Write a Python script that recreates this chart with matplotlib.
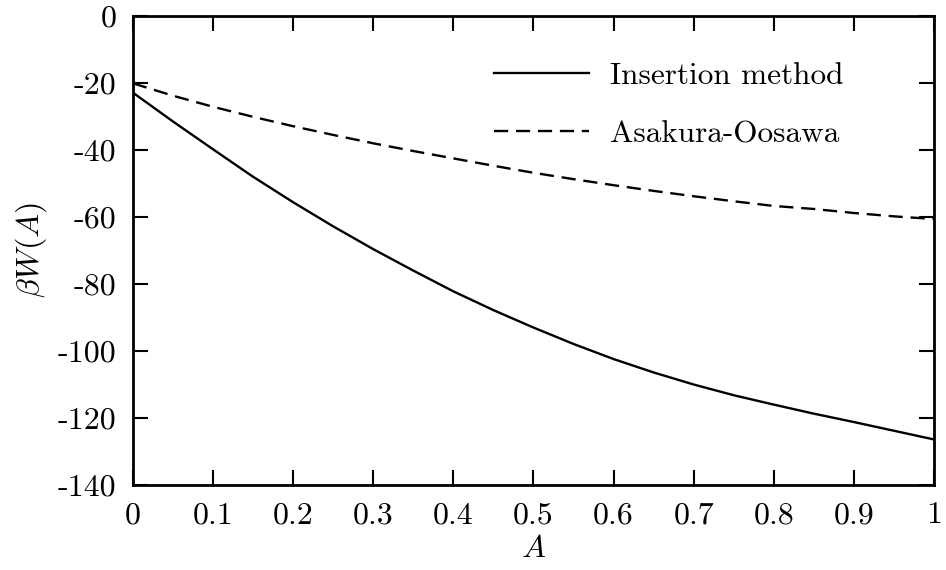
import numpy as np
import matplotlib
matplotlib.use("Agg")
import matplotlib.pyplot as plt

plt.rcParams['font.family'] = 'cmr10'
plt.rcParams['mathtext.fontset'] = 'cm'
plt.rcParams['axes.unicode_minus'] = False

# depletion potential vs A
A = [0.0, 0.05, 0.1, 0.15, 0.2, 0.25, 0.3, 0.35, 0.4, 0.45, 0.5,
     0.55, 0.6, 0.65, 0.7, 0.75, 0.8, 0.85, 0.9, 0.95, 1.0]
insertion = [-22.9, -31.5, -39.8, -48.0, -55.6, -62.8, -69.6, -76.0, -82.2, -87.8, -93.0,
             -97.9, -102.4, -106.4, -110.0, -113.2, -116.0, -118.7, -121.2, -123.8, -126.4]
asakura = [-20.1, -23.8, -27.1, -30.1, -32.9, -35.5, -38.0, -40.3, -42.5, -44.7, -46.8,
           -48.7, -50.5, -52.2, -53.8, -55.3, -56.7, -57.6, -58.8, -59.8, -60.6]

xticks = [0, 0.1, 0.2, 0.3, 0.4, 0.5, 0.6, 0.7, 0.8, 0.9, 1]
xticklabels = ['0', '0.1', '0.2', '0.3', '0.4', '0.5', '0.6', '0.7', '0.8', '0.9', '1']
yticks = [0, -20, -40, -60, -80, -100, -120, -140]
yticklabels = ['0', '-20', '-40', '-60', '-80', '-100', '-120', '-140']

fig = plt.figure(figsize=(9.46, 5.70), dpi=100)
ax = fig.add_axes([0.1406, 0.1491, 0.8467, 0.8228])

ax.plot(A, insertion, color='black', lw=1.7, label='Insertion method')
ax.plot(A, asakura, color='black', lw=1.7, dashes=(6, 3.3), label='Asakura-Oosawa')

ax.set_xlim(0, 1)
ax.set_ylim(-140, 0)
ax.set_xticks(xticks)
ax.set_xticklabels(xticklabels)
ax.set_yticks(yticks)
ax.set_yticklabels(yticklabels)
ax.tick_params(direction='in', length=11, width=1.5, top=True, right=True,
               labelsize=23, pad=12)
for s in ax.spines.values():
    s.set_linewidth(2.0)

ax.set_xlabel(r'$A$', fontsize=23, labelpad=5)
ax.set_ylabel(r'$\beta W(A)$', fontsize=23, labelpad=6)

ax.legend(loc='upper right', bbox_to_anchor=(0.9225, 0.961), frameon=False,
          fontsize=22.5, handlelength=3.04, handletextpad=0.67, labelspacing=0.96)

fig.savefig('out.png', dpi=100)
